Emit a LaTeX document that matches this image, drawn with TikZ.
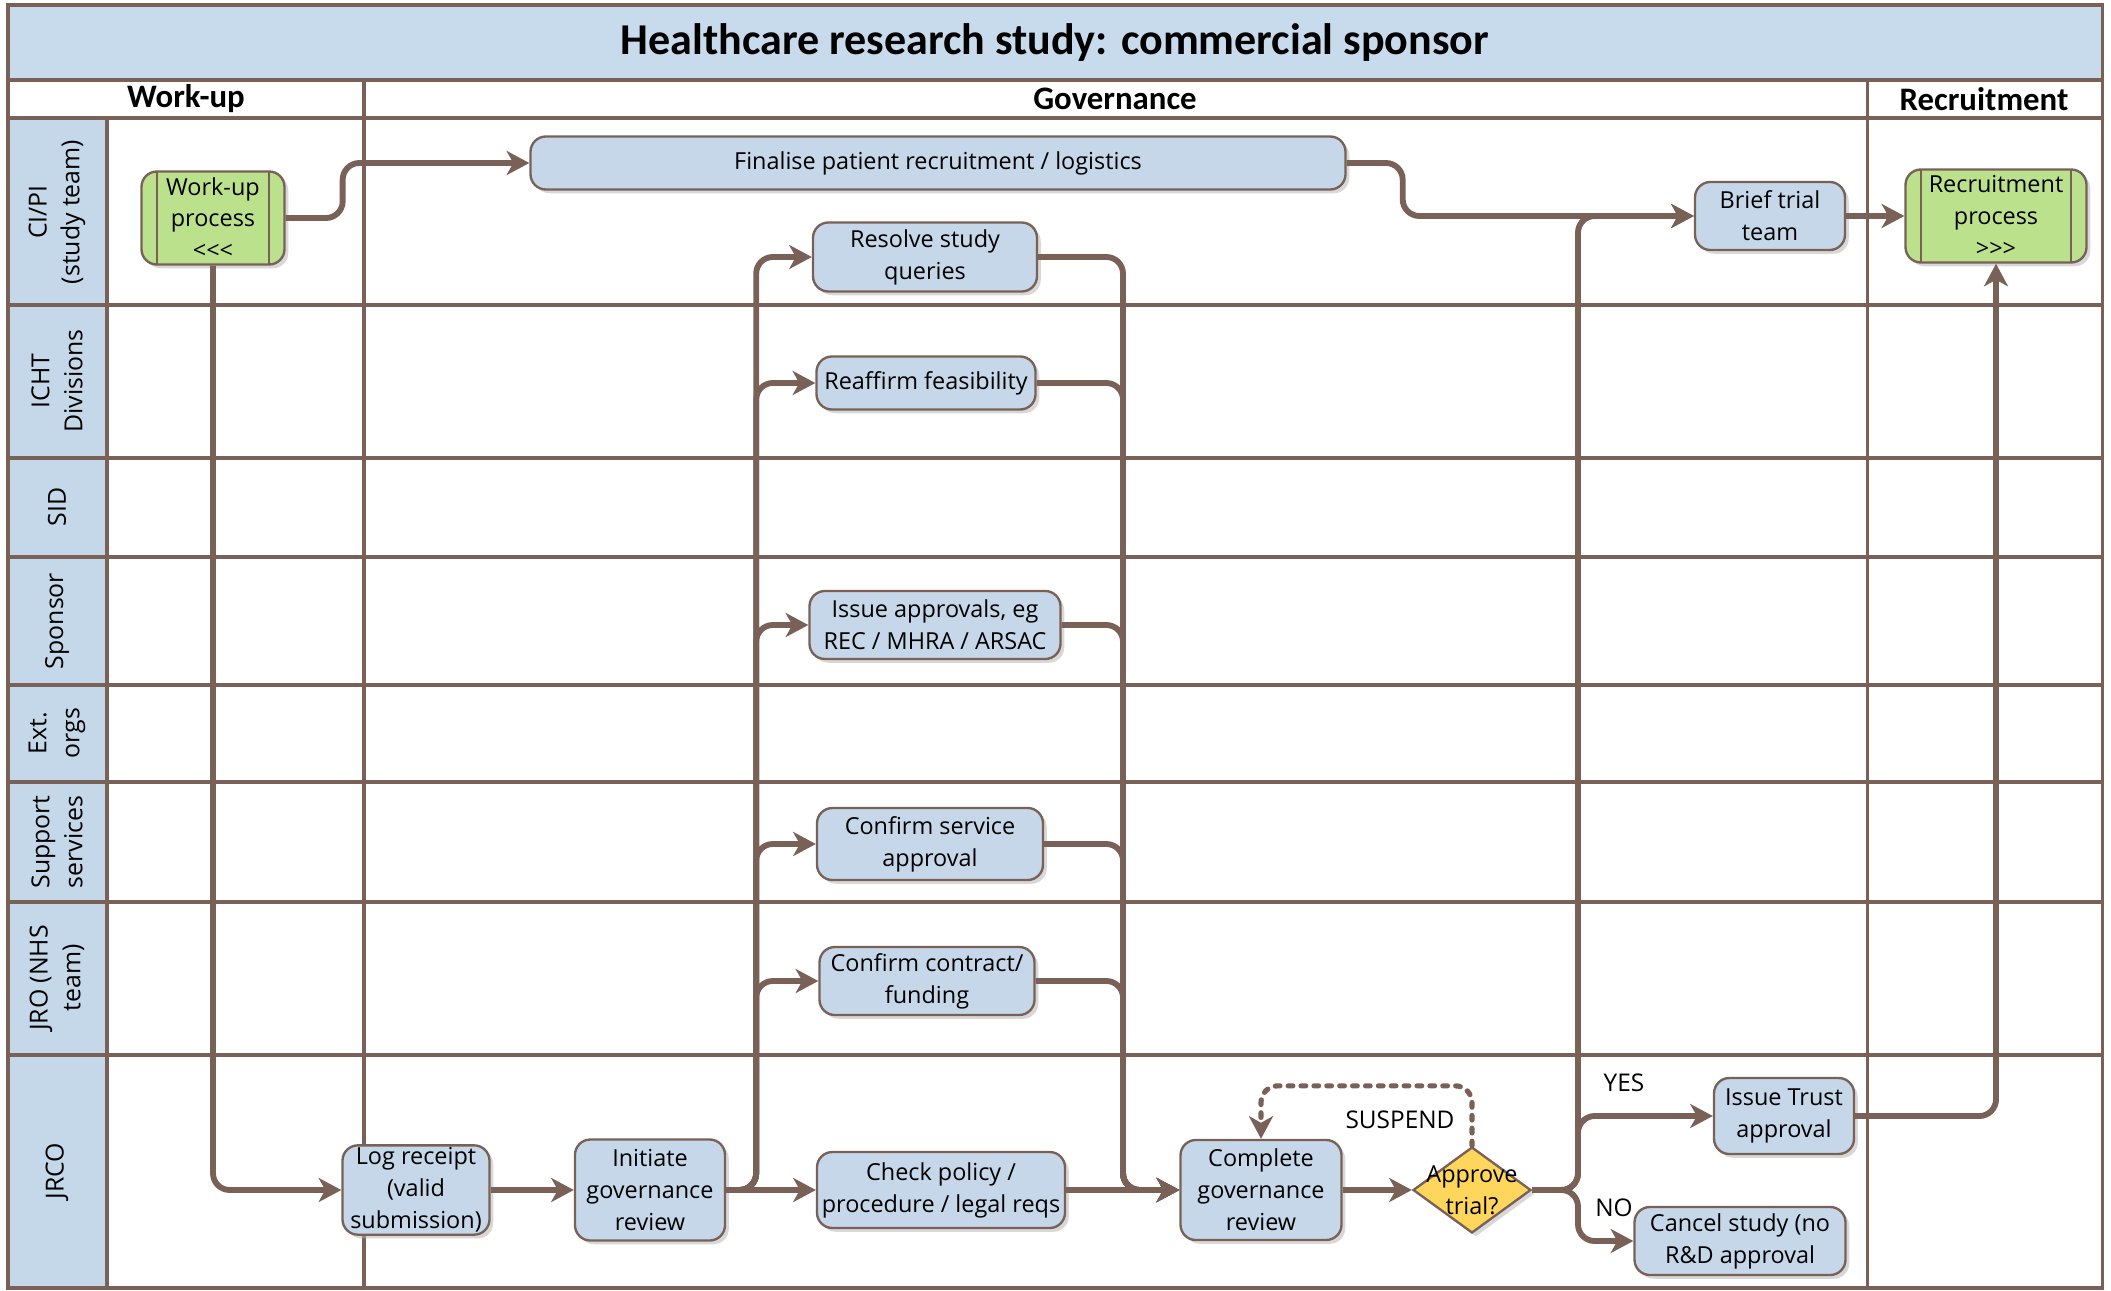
\documentclass[tikz,border=0pt]{standalone}
\usepackage{fontspec}
\setmainfont{Carlito}
\newfontfamily\labelfont{Open Sans}
\usetikzlibrary{shapes.geometric,arrows.meta,shadows}
\definecolor{linec}{RGB}{121,97,88}
\definecolor{lanec}{RGB}{197,216,233}
\definecolor{boxc}{RGB}{197,215,232}
\definecolor{procc}{RGB}{188,225,140}
\definecolor{decc}{RGB}{255,214,92}
\definecolor{titlec}{RGB}{200,219,236}
\tikzset{sz/.style 2 args={minimum width=#1*0.015cm,minimum height=#2*0.015cm}}

\begin{document}
\begin{tikzpicture}[x=0.015cm,y=-0.015cm]
\tikzstyle{grid}=[draw=linec,line width=1.3pt]
\tikzstyle{task}=[rectangle,rounded corners=2.3mm,draw=linec,line width=1pt,fill=boxc,align=center,inner sep=1pt,font=\labelfont\fontsize{10}{13.6}\selectfont,drop shadow={shadow xshift=1.6pt,shadow yshift=-1.6pt,fill=black!30}]
\tikzstyle{proc}=[task,fill=procc,path picture={
  \draw[linec,line width=1pt] ([xshift=0.23cm]path picture bounding box.north west) -- ([xshift=0.23cm]path picture bounding box.south west);
  \draw[linec,line width=1pt] ([xshift=-0.23cm]path picture bounding box.north east) -- ([xshift=-0.23cm]path picture bounding box.south east);}]
\tikzstyle{decision}=[diamond,draw=linec,line width=1pt,fill=decc,inner sep=0pt,drop shadow={shadow xshift=1.6pt,shadow yshift=-1.6pt,fill=black!30}]
\tikzstyle{lane}=[rotate=90,align=center,font=\labelfont\fontsize{10.6}{14}\selectfont]
\tikzstyle{head}=[font=\bfseries\fontsize{14}{16}\selectfont]
\tikzstyle{note}=[font=\labelfont\fontsize{10.4}{13}\selectfont]
\tikzstyle{flow}=[draw=linec,line width=2.5pt,rounded corners=2.5mm,-{Stealth[length=3.4mm,width=3.6mm,inset=1mm]}]
\useasboundingbox (0,0) rectangle (2111,1290);

\fill[titlec] (8,5) rectangle (2102,80);
\fill[lanec] (8,118) rectangle (107,1288);
\foreach \y in {80,118,305,458,557,685,782,902,1055}
  \draw[grid] (8,\y) -- (2102,\y);
\foreach \x in {364,1867}
  \draw[grid] (\x,80) -- (\x,1288);
\draw[grid] (107,118) -- (107,1288);
\draw[grid] (8,5) rectangle (2102,1288);

\node[font=\bfseries\fontsize{18.8}{22}\selectfont] (title) at (1055,43) {Healthcare research study: commercial sponsor};
\node[head] (hwork) at (186,99) {Work-up};
\node[head] (hgov) at (1115,99) {Governance};
\node[head] (hrec) at (1984,99) {Recruitment};

\node[lane] (l1) at (57,212) {CI/PI\\(study team)};
\node[lane] (l2) at (57,381) {ICHT\\Divisions};
\node[lane] (l3) at (57,507) {SID};
\node[lane] (l4) at (57,621) {Sponsor};
\node[lane] (l5) at (57,733) {Ext.\\orgs};
\node[lane] (l6) at (57,842) {Support\\services};
\node[lane] (l7) at (57,978) {JRO (NHS\\team)};
\node[lane] (l8) at (57,1171) {JRCO};

\node[proc,sz={143}{93}] (work) at (213,218) {Work-up\\process\\<{}<{}<};
\node[proc,sz={181}{93}] (recruit) at (1996,216) {Recruitment\\process\\>{}>{}>};
\node[task,sz={815}{53}] (final) at (938,163) {Finalise patient recruitment / logistics};
\node[task,sz={150}{68}] (brief) at (1770,216) {Brief trial\\team};
\node[task,sz={224}{69}] (resolve) at (925,257) {Resolve study\\queries};
\node[task,sz={219}{53}] (reaffirm) at (926,383) {Reaffirm feasibility};
\node[task,sz={251}{68}] (issueapp) at (935,625) {Issue approvals, eg\\REC / MHRA / ARSAC};
\node[task,sz={226}{72}] (service) at (930,844) {Confirm service\\approval};
\node[task,sz={215}{68}] (contract) at (927,981) {Confirm contract/\\funding};
\node[task,sz={147}{87}] (logrec) at (416,1190) {Log receipt\\(valid\\submission)};
\node[task,sz={150}{101}] (initiate) at (650,1190) {Initiate\\governance\\review};
\node[task,sz={248}{76}] (check) at (941,1190) {Check policy /\\procedure / legal reqs};
\node[task,sz={161}{100}] (complete) at (1261,1190) {Complete\\governance\\review};
\node[decision,sz={118}{86},label={[align=center,font=\labelfont\fontsize{10}{13.6}\selectfont]center:{Approve\\trial?}}] (approve) at (1472,1190) {};
\node[task,sz={140}{76}] (trust) at (1784,1116) {Issue Trust\\approval};
\node[task,sz={211}{68}] (cancel) at (1740,1241) {Cancel study (no\\R\&D approval};

\node[note] (yes) at (1624,1083) {YES};
\node[note] (no) at (1614,1208) {NO};
\node[note] (susp) at (1400,1120) {SUSPEND};

\draw[flow] (work.east) -- ++(57,0) |- (final.west);
\draw[flow] (work.south) |- (logrec.west);
\draw[flow] (logrec) -- (initiate);
\draw[flow] (initiate) -- (check);
\foreach \t in {resolve,reaffirm,issueapp,service,contract}
  \draw[flow] (initiate.east) -- ++(30,0) |- (\t.west);
\coordinate (merge) at (1123,1190);
\foreach \s in {resolve,reaffirm,issueapp,service,contract}
  \draw[flow] (\s.east) -| (merge) -- (complete.west);
\draw[flow] (check) -- (complete);
\draw[flow] (complete) -- (approve);
\coordinate (split) at (1578,1190);
\draw[flow] (approve.east) -- (split) |- (trust.west);
\draw[flow] (approve.east) -- (split) |- (cancel.west);
\draw[flow] (approve.east) -- (split) |- (brief.west);
\draw[flow] (final.east) -- ++(56,0) |- (brief.west);
\draw[flow] (brief) -- (recruit);
\draw[flow] (trust.east) -| (recruit.south);
\draw[flow,line width=2.2pt,line cap=round,dash pattern=on 2pt off 3.5pt] (approve.north) -- ++(0,-60) -| (complete.north);
\end{tikzpicture}
\end{document}
